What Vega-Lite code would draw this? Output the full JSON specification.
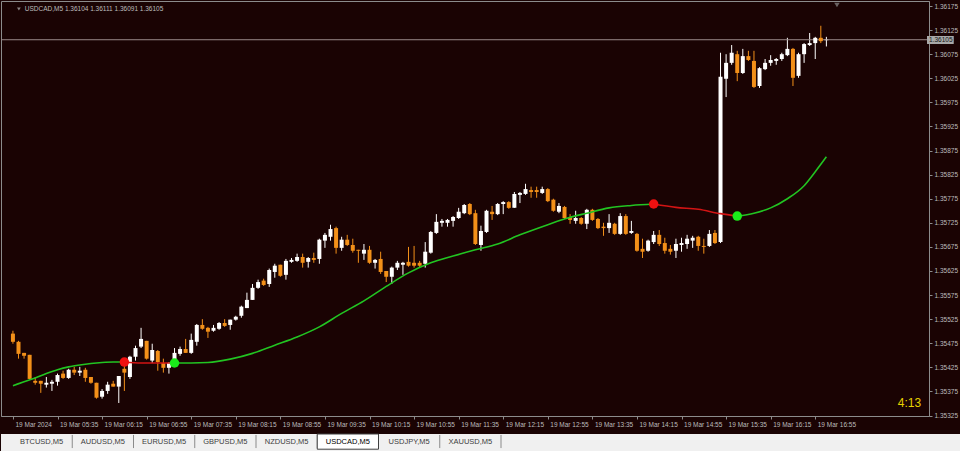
{
"$schema":"https://vega.github.io/schema/vega-lite/v6.json",
"background":"#1a0303",
"padding":0,
"spacing":5,
"config":{"view":{"stroke":null},"axis":{"grid":false,"labelOverlap":false,"labelFont":"Liberation Sans","labelFontSize":6.5,"labelColor":"#bcbcbc","domainColor":"#8c8c8c","tickColor":"#8c8c8c"}},
"datasets":{
"candles":[
{"t":"2024-03-19T04:55","o":1.35495,"h":1.35501,"l":1.35474,"c":1.35478},
{"t":"2024-03-19T05:00","o":1.35478,"h":1.35480,"l":1.35443,"c":1.35453},
{"t":"2024-03-19T05:05","o":1.35455,"h":1.35455,"l":1.35443,"c":1.35449},
{"t":"2024-03-19T05:10","o":1.35451,"h":1.35451,"l":1.35399,"c":1.35401},
{"t":"2024-03-19T05:15","o":1.35397,"h":1.35405,"l":1.35389,"c":1.35393},
{"t":"2024-03-19T05:20","o":1.35397,"h":1.35397,"l":1.35372,"c":1.35391},
{"t":"2024-03-19T05:25","o":1.35389,"h":1.35405,"l":1.35383,"c":1.35393},
{"t":"2024-03-19T05:30","o":1.35391,"h":1.35399,"l":1.35376,"c":1.35395},
{"t":"2024-03-19T05:35","o":1.35395,"h":1.35412,"l":1.35387,"c":1.35409},
{"t":"2024-03-19T05:40","o":1.35412,"h":1.35418,"l":1.35401,"c":1.35403},
{"t":"2024-03-19T05:45","o":1.35403,"h":1.35422,"l":1.35401,"c":1.35420},
{"t":"2024-03-19T05:50","o":1.35420,"h":1.35426,"l":1.35409,"c":1.35414},
{"t":"2024-03-19T05:55","o":1.35414,"h":1.35426,"l":1.35407,"c":1.35418},
{"t":"2024-03-19T06:00","o":1.35420,"h":1.35424,"l":1.35395,"c":1.35403},
{"t":"2024-03-19T06:05","o":1.35405,"h":1.35405,"l":1.35391,"c":1.35393},
{"t":"2024-03-19T06:10","o":1.35393,"h":1.35393,"l":1.35360,"c":1.35362},
{"t":"2024-03-19T06:15","o":1.35364,"h":1.35380,"l":1.35360,"c":1.35376},
{"t":"2024-03-19T06:20","o":1.35376,"h":1.35395,"l":1.35370,"c":1.35389},
{"t":"2024-03-19T06:25","o":1.35391,"h":1.35397,"l":1.35385,"c":1.35385},
{"t":"2024-03-19T06:30","o":1.35385,"h":1.35407,"l":1.35351,"c":1.35407},
{"t":"2024-03-19T06:35","o":1.35422,"h":1.35436,"l":1.35376,"c":1.35414},
{"t":"2024-03-19T06:40","o":1.35405,"h":1.35449,"l":1.35401,"c":1.35447},
{"t":"2024-03-19T06:45","o":1.35447,"h":1.35470,"l":1.35439,"c":1.35465},
{"t":"2024-03-19T06:50","o":1.35468,"h":1.35507,"l":1.35465,"c":1.35484},
{"t":"2024-03-19T06:55","o":1.35480,"h":1.35480,"l":1.35441,"c":1.35443},
{"t":"2024-03-19T07:00","o":1.35439,"h":1.35474,"l":1.35434,"c":1.35461},
{"t":"2024-03-19T07:05","o":1.35459,"h":1.35461,"l":1.35418,"c":1.35436},
{"t":"2024-03-19T07:10","o":1.35434,"h":1.35443,"l":1.35414,"c":1.35424},
{"t":"2024-03-19T07:15","o":1.35424,"h":1.35436,"l":1.35412,"c":1.35434},
{"t":"2024-03-19T07:20","o":1.35436,"h":1.35465,"l":1.35434,"c":1.35455},
{"t":"2024-03-19T07:25","o":1.35453,"h":1.35468,"l":1.35449,"c":1.35463},
{"t":"2024-03-19T07:30","o":1.35463,"h":1.35484,"l":1.35455,"c":1.35455},
{"t":"2024-03-19T07:35","o":1.35455,"h":1.35495,"l":1.35453,"c":1.35482},
{"t":"2024-03-19T07:40","o":1.35478,"h":1.35515,"l":1.35470,"c":1.35513},
{"t":"2024-03-19T07:45","o":1.35513,"h":1.35525,"l":1.35503,"c":1.35505},
{"t":"2024-03-19T07:50","o":1.35507,"h":1.35509,"l":1.35486,"c":1.35499},
{"t":"2024-03-19T07:55","o":1.35501,"h":1.35513,"l":1.35499,"c":1.35507},
{"t":"2024-03-19T08:00","o":1.35505,"h":1.35519,"l":1.35503,"c":1.35517},
{"t":"2024-03-19T08:05","o":1.35517,"h":1.35525,"l":1.35509,"c":1.35511},
{"t":"2024-03-19T08:10","o":1.35513,"h":1.35524,"l":1.35503,"c":1.35524},
{"t":"2024-03-19T08:15","o":1.35524,"h":1.35532,"l":1.35522,"c":1.35530},
{"t":"2024-03-19T08:20","o":1.35532,"h":1.35553,"l":1.35528,"c":1.35551},
{"t":"2024-03-19T08:25","o":1.35548,"h":1.35580,"l":1.35548,"c":1.35565},
{"t":"2024-03-19T08:30","o":1.35565,"h":1.35598,"l":1.35565,"c":1.35590},
{"t":"2024-03-19T08:35","o":1.35590,"h":1.35607,"l":1.35588,"c":1.35602},
{"t":"2024-03-19T08:40","o":1.35605,"h":1.35609,"l":1.35594,"c":1.35596},
{"t":"2024-03-19T08:45","o":1.35598,"h":1.35630,"l":1.35592,"c":1.35627},
{"t":"2024-03-19T08:50","o":1.35623,"h":1.35640,"l":1.35611,"c":1.35636},
{"t":"2024-03-19T08:55","o":1.35638,"h":1.35638,"l":1.35613,"c":1.35615},
{"t":"2024-03-19T09:00","o":1.35617,"h":1.35650,"l":1.35607,"c":1.35646},
{"t":"2024-03-19T09:05","o":1.35644,"h":1.35652,"l":1.35642,"c":1.35648},
{"t":"2024-03-19T09:10","o":1.35646,"h":1.35661,"l":1.35644,"c":1.35654},
{"t":"2024-03-19T09:15","o":1.35654,"h":1.35661,"l":1.35632,"c":1.35642},
{"t":"2024-03-19T09:20","o":1.35644,"h":1.35654,"l":1.35632,"c":1.35652},
{"t":"2024-03-19T09:25","o":1.35652,"h":1.35663,"l":1.35642,"c":1.35648},
{"t":"2024-03-19T09:30","o":1.35650,"h":1.35692,"l":1.35640,"c":1.35690},
{"t":"2024-03-19T09:35","o":1.35688,"h":1.35704,"l":1.35673,"c":1.35700},
{"t":"2024-03-19T09:40","o":1.35696,"h":1.35721,"l":1.35688,"c":1.35712},
{"t":"2024-03-19T09:45","o":1.35714,"h":1.35717,"l":1.35661,"c":1.35673},
{"t":"2024-03-19T09:50","o":1.35673,"h":1.35696,"l":1.35667,"c":1.35690},
{"t":"2024-03-19T09:55","o":1.35690,"h":1.35700,"l":1.35677,"c":1.35679},
{"t":"2024-03-19T10:00","o":1.35679,"h":1.35692,"l":1.35663,"c":1.35667},
{"t":"2024-03-19T10:05","o":1.35669,"h":1.35669,"l":1.35642,"c":1.35667},
{"t":"2024-03-19T10:10","o":1.35661,"h":1.35681,"l":1.35648,"c":1.35669},
{"t":"2024-03-19T10:15","o":1.35669,"h":1.35677,"l":1.35640,"c":1.35642},
{"t":"2024-03-19T10:20","o":1.35642,"h":1.35650,"l":1.35630,"c":1.35648},
{"t":"2024-03-19T10:25","o":1.35650,"h":1.35665,"l":1.35619,"c":1.35623},
{"t":"2024-03-19T10:30","o":1.35625,"h":1.35625,"l":1.35602,"c":1.35613},
{"t":"2024-03-19T10:35","o":1.35613,"h":1.35634,"l":1.35598,"c":1.35632},
{"t":"2024-03-19T10:40","o":1.35632,"h":1.35646,"l":1.35627,"c":1.35642},
{"t":"2024-03-19T10:45","o":1.35638,"h":1.35644,"l":1.35617,"c":1.35642},
{"t":"2024-03-19T10:50","o":1.35644,"h":1.35675,"l":1.35634,"c":1.35636},
{"t":"2024-03-19T10:55","o":1.35642,"h":1.35677,"l":1.35632,"c":1.35636},
{"t":"2024-03-19T11:00","o":1.35642,"h":1.35646,"l":1.35632,"c":1.35636},
{"t":"2024-03-19T11:05","o":1.35640,"h":1.35685,"l":1.35632,"c":1.35665},
{"t":"2024-03-19T11:10","o":1.35663,"h":1.35708,"l":1.35661,"c":1.35706},
{"t":"2024-03-19T11:15","o":1.35704,"h":1.35743,"l":1.35702,"c":1.35727},
{"t":"2024-03-19T11:20","o":1.35725,"h":1.35733,"l":1.35717,"c":1.35729},
{"t":"2024-03-19T11:25","o":1.35725,"h":1.35733,"l":1.35717,"c":1.35731},
{"t":"2024-03-19T11:30","o":1.35729,"h":1.35739,"l":1.35717,"c":1.35737},
{"t":"2024-03-19T11:35","o":1.35735,"h":1.35756,"l":1.35733,"c":1.35748},
{"t":"2024-03-19T11:40","o":1.35745,"h":1.35764,"l":1.35743,"c":1.35762},
{"t":"2024-03-19T11:45","o":1.35764,"h":1.35766,"l":1.35741,"c":1.35743},
{"t":"2024-03-19T11:50","o":1.35745,"h":1.35752,"l":1.35679,"c":1.35681},
{"t":"2024-03-19T11:55","o":1.35679,"h":1.35719,"l":1.35667,"c":1.35708},
{"t":"2024-03-19T12:00","o":1.35706,"h":1.35752,"l":1.35704,"c":1.35750},
{"t":"2024-03-19T12:05","o":1.35748,"h":1.35760,"l":1.35731,"c":1.35743},
{"t":"2024-03-19T12:10","o":1.35743,"h":1.35766,"l":1.35741,"c":1.35764},
{"t":"2024-03-19T12:15","o":1.35764,"h":1.35770,"l":1.35743,"c":1.35768},
{"t":"2024-03-19T12:20","o":1.35768,"h":1.35770,"l":1.35754,"c":1.35756},
{"t":"2024-03-19T12:25","o":1.35756,"h":1.35789,"l":1.35756,"c":1.35785},
{"t":"2024-03-19T12:30","o":1.35783,"h":1.35789,"l":1.35766,"c":1.35787},
{"t":"2024-03-19T12:35","o":1.35785,"h":1.35806,"l":1.35783,"c":1.35795},
{"t":"2024-03-19T12:40","o":1.35793,"h":1.35800,"l":1.35777,"c":1.35789},
{"t":"2024-03-19T12:45","o":1.35793,"h":1.35800,"l":1.35777,"c":1.35789},
{"t":"2024-03-19T12:50","o":1.35787,"h":1.35800,"l":1.35785,"c":1.35795},
{"t":"2024-03-19T12:55","o":1.35795,"h":1.35797,"l":1.35768,"c":1.35770},
{"t":"2024-03-19T13:00","o":1.35773,"h":1.35775,"l":1.35748,"c":1.35750},
{"t":"2024-03-19T13:05","o":1.35748,"h":1.35766,"l":1.35745,"c":1.35760},
{"t":"2024-03-19T13:10","o":1.35758,"h":1.35760,"l":1.35733,"c":1.35735},
{"t":"2024-03-19T13:15","o":1.35737,"h":1.35743,"l":1.35723,"c":1.35731},
{"t":"2024-03-19T13:20","o":1.35729,"h":1.35750,"l":1.35723,"c":1.35735},
{"t":"2024-03-19T13:25","o":1.35735,"h":1.35737,"l":1.35721,"c":1.35723},
{"t":"2024-03-19T13:30","o":1.35723,"h":1.35754,"l":1.35712,"c":1.35752},
{"t":"2024-03-19T13:35","o":1.35752,"h":1.35754,"l":1.35729,"c":1.35731},
{"t":"2024-03-19T13:40","o":1.35733,"h":1.35735,"l":1.35712,"c":1.35714},
{"t":"2024-03-19T13:45","o":1.35717,"h":1.35725,"l":1.35698,"c":1.35714},
{"t":"2024-03-19T13:50","o":1.35714,"h":1.35743,"l":1.35704,"c":1.35725},
{"t":"2024-03-19T13:55","o":1.35723,"h":1.35725,"l":1.35700,"c":1.35702},
{"t":"2024-03-19T14:00","o":1.35702,"h":1.35745,"l":1.35700,"c":1.35739},
{"t":"2024-03-19T14:05","o":1.35739,"h":1.35743,"l":1.35700,"c":1.35702},
{"t":"2024-03-19T14:10","o":1.35704,"h":1.35729,"l":1.35702,"c":1.35708},
{"t":"2024-03-19T14:15","o":1.35702,"h":1.35704,"l":1.35665,"c":1.35667},
{"t":"2024-03-19T14:20","o":1.35671,"h":1.35692,"l":1.35652,"c":1.35665},
{"t":"2024-03-19T14:25","o":1.35667,"h":1.35690,"l":1.35665,"c":1.35688},
{"t":"2024-03-19T14:30","o":1.35685,"h":1.35708,"l":1.35681,"c":1.35700},
{"t":"2024-03-19T14:35","o":1.35700,"h":1.35710,"l":1.35677,"c":1.35681},
{"t":"2024-03-19T14:40","o":1.35683,"h":1.35694,"l":1.35661,"c":1.35667},
{"t":"2024-03-19T14:45","o":1.35671,"h":1.35679,"l":1.35659,"c":1.35665},
{"t":"2024-03-19T14:50","o":1.35667,"h":1.35692,"l":1.35652,"c":1.35681},
{"t":"2024-03-19T14:55","o":1.35679,"h":1.35694,"l":1.35665,"c":1.35683},
{"t":"2024-03-19T15:00","o":1.35681,"h":1.35700,"l":1.35671,"c":1.35692},
{"t":"2024-03-19T15:05","o":1.35688,"h":1.35698,"l":1.35673,"c":1.35694},
{"t":"2024-03-19T15:10","o":1.35696,"h":1.35698,"l":1.35667,"c":1.35677},
{"t":"2024-03-19T15:15","o":1.35677,"h":1.35692,"l":1.35661,"c":1.35675},
{"t":"2024-03-19T15:20","o":1.35677,"h":1.35710,"l":1.35675,"c":1.35702},
{"t":"2024-03-19T15:25","o":1.35704,"h":1.35710,"l":1.35681,"c":1.35683},
{"t":"2024-03-19T15:30","o":1.35685,"h":1.36078,"l":1.35683,"c":1.36028},
{"t":"2024-03-19T15:35","o":1.36024,"h":1.36075,"l":1.35986,"c":1.36057},
{"t":"2024-03-19T15:40","o":1.36057,"h":1.36094,"l":1.36053,"c":1.36078},
{"t":"2024-03-19T15:45","o":1.36075,"h":1.36082,"l":1.36019,"c":1.36036},
{"t":"2024-03-19T15:50","o":1.36036,"h":1.36086,"l":1.36034,"c":1.36071},
{"t":"2024-03-19T15:55","o":1.36071,"h":1.36082,"l":1.36061,"c":1.36063},
{"t":"2024-03-19T16:00","o":1.36061,"h":1.36082,"l":1.36005,"c":1.36007},
{"t":"2024-03-19T16:05","o":1.36009,"h":1.36048,"l":1.36005,"c":1.36046},
{"t":"2024-03-19T16:10","o":1.36044,"h":1.36065,"l":1.36042,"c":1.36057},
{"t":"2024-03-19T16:15","o":1.36057,"h":1.36073,"l":1.36051,"c":1.36063},
{"t":"2024-03-19T16:20","o":1.36061,"h":1.36067,"l":1.36053,"c":1.36065},
{"t":"2024-03-19T16:25","o":1.36065,"h":1.36078,"l":1.36061,"c":1.36075},
{"t":"2024-03-19T16:30","o":1.36073,"h":1.36109,"l":1.36071,"c":1.36086},
{"t":"2024-03-19T16:35","o":1.36086,"h":1.36088,"l":1.36009,"c":1.36026},
{"t":"2024-03-19T16:40","o":1.36030,"h":1.36078,"l":1.36026,"c":1.36075},
{"t":"2024-03-19T16:45","o":1.36075,"h":1.36098,"l":1.36057,"c":1.36096},
{"t":"2024-03-19T16:50","o":1.36094,"h":1.36119,"l":1.36092,"c":1.36098},
{"t":"2024-03-19T16:55","o":1.36098,"h":1.36111,"l":1.36065,"c":1.36109},
{"t":"2024-03-19T17:00","o":1.36109,"h":1.36134,"l":1.36098,"c":1.36102},
{"t":"2024-03-19T17:05","o":1.36104,"h":1.36111,"l":1.36091,"c":1.36105}
],
"ma":[
{"t":"2024-03-19T04:55","ma":1.35387,"seg":1,"trend":"up"},
{"t":"2024-03-19T05:05","ma":1.35395,"seg":1,"trend":"up"},
{"t":"2024-03-19T05:15","ma":1.35403,"seg":1,"trend":"up"},
{"t":"2024-03-19T05:25","ma":1.35412,"seg":1,"trend":"up"},
{"t":"2024-03-19T05:35","ma":1.35420,"seg":1,"trend":"up"},
{"t":"2024-03-19T05:45","ma":1.35426,"seg":1,"trend":"up"},
{"t":"2024-03-19T05:55","ma":1.35430,"seg":1,"trend":"up"},
{"t":"2024-03-19T06:05","ma":1.35433,"seg":1,"trend":"up"},
{"t":"2024-03-19T06:15","ma":1.35435,"seg":1,"trend":"up"},
{"t":"2024-03-19T06:25","ma":1.35436,"seg":1,"trend":"up"},
{"t":"2024-03-19T06:35","ma":1.35436,"seg":1,"trend":"up"},
{"t":"2024-03-19T06:35","ma":1.35436,"seg":2,"trend":"down"},
{"t":"2024-03-19T06:50","ma":1.35434,"seg":2,"trend":"down"},
{"t":"2024-03-19T07:05","ma":1.35434,"seg":2,"trend":"down"},
{"t":"2024-03-19T07:20","ma":1.35434,"seg":2,"trend":"down"},
{"t":"2024-03-19T07:20","ma":1.35434,"seg":3,"trend":"up"},
{"t":"2024-03-19T07:35","ma":1.35434,"seg":3,"trend":"up"},
{"t":"2024-03-19T07:50","ma":1.35435,"seg":3,"trend":"up"},
{"t":"2024-03-19T08:10","ma":1.35442,"seg":3,"trend":"up"},
{"t":"2024-03-19T08:30","ma":1.35454,"seg":3,"trend":"up"},
{"t":"2024-03-19T08:50","ma":1.35471,"seg":3,"trend":"up"},
{"t":"2024-03-19T09:10","ma":1.35488,"seg":3,"trend":"up"},
{"t":"2024-03-19T09:30","ma":1.35509,"seg":3,"trend":"up"},
{"t":"2024-03-19T09:50","ma":1.35537,"seg":3,"trend":"up"},
{"t":"2024-03-19T10:10","ma":1.35563,"seg":3,"trend":"up"},
{"t":"2024-03-19T10:30","ma":1.35593,"seg":3,"trend":"up"},
{"t":"2024-03-19T10:50","ma":1.35621,"seg":3,"trend":"up"},
{"t":"2024-03-19T11:10","ma":1.35642,"seg":3,"trend":"up"},
{"t":"2024-03-19T11:30","ma":1.35656,"seg":3,"trend":"up"},
{"t":"2024-03-19T11:50","ma":1.35669,"seg":3,"trend":"up"},
{"t":"2024-03-19T12:10","ma":1.35681,"seg":3,"trend":"up"},
{"t":"2024-03-19T12:30","ma":1.35700,"seg":3,"trend":"up"},
{"t":"2024-03-19T12:50","ma":1.35717,"seg":3,"trend":"up"},
{"t":"2024-03-19T13:10","ma":1.35733,"seg":3,"trend":"up"},
{"t":"2024-03-19T13:30","ma":1.35745,"seg":3,"trend":"up"},
{"t":"2024-03-19T13:50","ma":1.35756,"seg":3,"trend":"up"},
{"t":"2024-03-19T14:10","ma":1.35761,"seg":3,"trend":"up"},
{"t":"2024-03-19T14:30","ma":1.35764,"seg":3,"trend":"up"},
{"t":"2024-03-19T14:30","ma":1.35764,"seg":4,"trend":"down"},
{"t":"2024-03-19T14:50","ma":1.35757,"seg":4,"trend":"down"},
{"t":"2024-03-19T15:10","ma":1.35753,"seg":4,"trend":"down"},
{"t":"2024-03-19T15:30","ma":1.35744,"seg":4,"trend":"down"},
{"t":"2024-03-19T15:45","ma":1.35739,"seg":4,"trend":"down"},
{"t":"2024-03-19T15:45","ma":1.35739,"seg":5,"trend":"up"},
{"t":"2024-03-19T16:00","ma":1.35745,"seg":5,"trend":"up"},
{"t":"2024-03-19T16:15","ma":1.35756,"seg":5,"trend":"up"},
{"t":"2024-03-19T16:30","ma":1.35775,"seg":5,"trend":"up"},
{"t":"2024-03-19T16:45","ma":1.35802,"seg":5,"trend":"up"},
{"t":"2024-03-19T16:55","ma":1.35831,"seg":5,"trend":"up"},
{"t":"2024-03-19T17:05","ma":1.35862,"seg":5,"trend":"up"}
],
"signals":[
{"t":"2024-03-19T06:35","ma":1.35436,"trend":"down"},
{"t":"2024-03-19T07:20","ma":1.35434,"trend":"up"},
{"t":"2024-03-19T14:30","ma":1.35764,"trend":"down"},
{"t":"2024-03-19T15:45","ma":1.35739,"trend":"up"}
],
"tabs":[
{"tab":"BTCUSD,M5","active":false},
{"tab":"AUDUSD,M5","active":false},
{"tab":"EURUSD,M5","active":false},
{"tab":"GBPUSD,M5","active":false},
{"tab":"NZDUSD,M5","active":false},
{"tab":"USDCAD,M5","active":true},
{"tab":"USDJPY,M5","active":false},
{"tab":"XAUUSD,M5","active":false}
]
},
"vconcat":[
{
"width":928,"height":415,
"view":{"stroke":"#8c8c8c"},
"layer":[
{"data":{"name":"candles"},"mark":{"type":"rule","strokeWidth":1},
 "encoding":{
  "x":{"field":"t","type":"temporal","title":null,
   "scale":{"domain":[{"year":2024,"month":3,"date":19,"hours":4,"minutes":48,"seconds":47},{"year":2024,"month":3,"date":19,"hours":18,"minutes":32,"seconds":36}],"nice":false},
   "axis":{"orient":"bottom","title":null,"tickCount":40,
    "values":[{"year":2024,"month":3,"date":19,"hours":4,"minutes":55},{"year":2024,"month":3,"date":19,"hours":5,"minutes":35},{"year":2024,"month":3,"date":19,"hours":6,"minutes":15},{"year":2024,"month":3,"date":19,"hours":6,"minutes":55},{"year":2024,"month":3,"date":19,"hours":7,"minutes":35},{"year":2024,"month":3,"date":19,"hours":8,"minutes":15},{"year":2024,"month":3,"date":19,"hours":8,"minutes":55},{"year":2024,"month":3,"date":19,"hours":9,"minutes":35},{"year":2024,"month":3,"date":19,"hours":10,"minutes":15},{"year":2024,"month":3,"date":19,"hours":10,"minutes":55},{"year":2024,"month":3,"date":19,"hours":11,"minutes":35},{"year":2024,"month":3,"date":19,"hours":12,"minutes":15},{"year":2024,"month":3,"date":19,"hours":12,"minutes":55},{"year":2024,"month":3,"date":19,"hours":13,"minutes":35},{"year":2024,"month":3,"date":19,"hours":14,"minutes":15},{"year":2024,"month":3,"date":19,"hours":14,"minutes":55},{"year":2024,"month":3,"date":19,"hours":15,"minutes":35},{"year":2024,"month":3,"date":19,"hours":16,"minutes":15},{"year":2024,"month":3,"date":19,"hours":16,"minutes":55}],
    "labelExpr":"timeFormat(datum.value, '%H:%M') == '04:55' ? '19 Mar 2024' : timeFormat(datum.value, '%d %b %H:%M')",
    "labelAlign":"left","labelBaseline":"top","labelPadding":2,"labelOffset":2,"tickSize":3,"labelOverlap":false,"labelFlush":false}},
  "y":{"field":"l","type":"quantitative","title":null,
   "scale":{"domain":[1.35324,1.361854],"zero":false,"nice":false},
   "axis":{"orient":"right","title":null,"tickCount":40,"values":[1.35325,1.35375,1.35425,1.35475,1.35525,1.35575,1.35625,1.35675,1.35725,1.35775,1.35825,1.35875,1.35925,1.35975,1.36025,1.36075,1.36125,1.36175],"format":".5f","labelAlign":"left","labelBaseline":"middle","labelPadding":2,"tickSize":3,"labelOverlap":false,"labelFlush":false,"labelBound":false}},
  "y2":{"field":"h"},
  "color":{"condition":{"test":"datum.c >= datum.o","value":"#ffffff"},"value":"#f39019"}}},
{"data":{"values":[{}]},"mark":{"type":"rule","color":"#9a8a8a","strokeWidth":1},
 "encoding":{"y":{"datum":1.36105,"type":"quantitative","title":null}}},
{"data":{"name":"candles"},"mark":{"type":"bar","size":4},
 "encoding":{
  "x":{"field":"t","type":"temporal","title":null},
  "y":{"field":"o","type":"quantitative","title":null},
  "y2":{"field":"c"},
  "color":{"condition":{"test":"datum.c >= datum.o","value":"#ffffff"},"value":"#f39019"}}},
{"data":{"name":"ma"},"mark":{"type":"line","strokeWidth":1.6,"interpolate":"monotone"},
 "encoding":{
  "x":{"field":"t","type":"temporal","title":null},
  "y":{"field":"ma","type":"quantitative","title":null},
  "detail":{"field":"seg","type":"nominal"},
  "color":{"field":"trend","type":"nominal","scale":{"domain":["up","down"],"range":["#22c422","#d21414"]},"legend":null}}},
{"data":{"name":"signals"},"mark":{"type":"point","filled":true,"size":90,"opacity":1},
 "encoding":{
  "x":{"field":"t","type":"temporal","title":null},
  "y":{"field":"ma","type":"quantitative","title":null},
  "fill":{"condition":{"test":"datum.trend == 'up'","value":"#1aeb1a"},"value":"#f01010"}}},
{"data":{"values":[{}]},"mark":{"type":"point","shape":"triangle-down","filled":true,"size":14,"color":"#bcbcbc"},
 "encoding":{"x":{"datum":{"year":2024,"month":3,"date":19,"hours":5,"minutes":0,"seconds":20},"type":"temporal"},"y":{"datum":1.361688,"type":"quantitative"}}},
{"data":{"values":[{}]},"mark":{"type":"text","align":"left","baseline":"middle","font":"Liberation Sans","fontSize":6.5,"color":"#bcbcbc","text":"USDCAD,M5  1.36104 1.36111 1.36091 1.36105"},
 "encoding":{"x":{"datum":{"year":2024,"month":3,"date":19,"hours":5,"minutes":5,"seconds":39},"type":"temporal"},"y":{"datum":1.361688,"type":"quantitative"}}},
{"data":{"values":[{}]},"mark":{"type":"point","shape":"triangle-down","filled":true,"size":30,"color":"#8c8c8c"},
 "encoding":{"x":{"datum":{"year":2024,"month":3,"date":19,"hours":17,"minutes":14,"seconds":30},"type":"temporal"},"y":{"datum":1.361771,"type":"quantitative"}}},
{"data":{"values":[{}]},"mark":{"type":"text","align":"right","baseline":"middle","font":"Liberation Sans","fontSize":12,"color":"#e6d200","text":"4:13"},
 "encoding":{"x":{"datum":{"year":2024,"month":3,"date":19,"hours":18,"minutes":30,"seconds":0},"type":"temporal"},"y":{"datum":1.353514,"type":"quantitative"}}},
{"data":{"values":[{}]},"mark":{"type":"rect","color":"#a8a8a8"},
 "encoding":{"x":{"datum":{"year":2024,"month":3,"date":19,"hours":18,"minutes":35,"seconds":18},"type":"temporal"},"x2":{"datum":{"year":2024,"month":3,"date":19,"hours":18,"minutes":59,"seconds":18}},"y":{"datum":1.361128,"type":"quantitative"},"y2":{"datum":1.360962}}},
{"data":{"values":[{}]},"mark":{"type":"text","align":"left","baseline":"middle","font":"Liberation Sans","fontSize":6.5,"color":"#141414","text":"1.36105"},
 "encoding":{"x":{"datum":{"year":2024,"month":3,"date":19,"hours":18,"minutes":37,"seconds":6},"type":"temporal"},"y":{"datum":1.36105,"type":"quantitative"}}}
]
},
{
"width":960,"height":19,
"view":{"fill":"#f0f0f0","stroke":null},
"data":{"name":"tabs"},
"encoding":{"x":{"field":"tab","type":"nominal","sort":null,"title":null,"scale":{"type":"band","range":[10,500],"paddingInner":0,"paddingOuter":0},"axis":null}},
"layer":[
{"mark":{"type":"rule","color":"#8a8a8a","strokeWidth":1},
 "encoding":{"x":{"field":"tab","type":"nominal","sort":null,"bandPosition":1,"axis":null},"y":{"datum":0.26,"type":"quantitative","scale":{"domain":[0,1]},"axis":null},"y2":{"datum":0.95}}},
{"transform":[{"filter":"datum.active"}],"mark":{"type":"bar","fill":"#ffffff","stroke":"#404040","strokeWidth":1},
 "encoding":{"y":{"datum":0.2,"type":"quantitative"},"y2":{"datum":1.0}}},
{"mark":{"type":"text","font":"Liberation Sans","fontSize":7.5,"baseline":"middle"},
 "encoding":{"text":{"field":"tab"},"y":{"datum":0.58,"type":"quantitative"},"color":{"condition":{"test":"datum.active","value":"#000000"},"value":"#404040"}}}
]
}
]
}
